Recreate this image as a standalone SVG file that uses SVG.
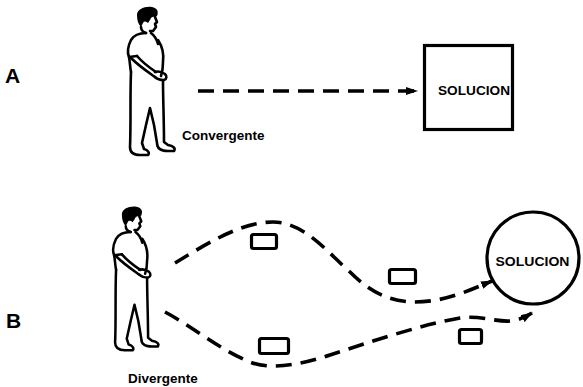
<svg xmlns="http://www.w3.org/2000/svg" width="583" height="387" viewBox="0 0 583 387">
  <style>
    .lbl { font-family: "Liberation Sans", Arial, sans-serif; font-weight: bold; fill: #000; }
    .ink { fill: none; stroke: #000; stroke-width: 2.6; stroke-linecap: round; stroke-linejoin: round; }
    .dash { fill: none; stroke: #000; stroke-width: 3.6; stroke-dasharray: 16 9; }
    .box { fill: #fff; stroke: #000; stroke-width: 3.2; }
    .card { fill: #fff; stroke: #000; stroke-width: 3.2; }
  </style>
  <defs>
    <marker id="head" viewBox="0 0 12 8" refX="11" refY="4" markerWidth="12" markerHeight="8" markerUnits="userSpaceOnUse" orient="auto">
      <path d="M0,0 L12,4 L0,8 Z" fill="#000"/>
    </marker>
    <!-- standing man, head bowed, hands clasped in front -->
    <g id="man">
      <path d="M137,15 C137,9 145,6 152,7 C157,8 159,11 157,16 L155,17 C153,16 151,17 150,20 L148,23 C146,21 144,21 143,23 L141,27 C138,24 137,20 137,15 Z" fill="#000"/>
      <path class="ink" d="M155,17 L157,22 L155,24 L156,27 L153,31 L150,31"/>
      <path class="ink" d="M141,27 C141,30 143,32 146,33"/>
      <path class="ink" d="M146,33 C139,33 134,35 131,40 C128,46 127,52 129,57 L137,56"/>
      <path class="ink" d="M129,57 C130,62 130,67 131,72"/>
      <path class="ink" d="M131,58 C139,66 148,72 155,77"/>
      <path class="ink" d="M137,56 C143,63 150,68 156,72"/>
      <path class="ink" d="M151,33 C155,36 157,40 158,44"/>
      <path class="ink" d="M158,40 C162,46 164,54 163,62 C163,68 162,73 161,76"/>
      <path class="ink" d="M155,72 C158,71 162,72 165,74 C167,76 167,79 164,80 C160,80 157,79 155,77"/>
      <path class="ink" d="M131,72 C130,95 131,125 130,147 C130,152 133,155 140,155 L148,155 C150,153 148,150 144,149 L142,143 L146,125 L150,108 L154,125 L157,143 C157,148 160,151 168,151 L174,151 C176,148 173,146 168,145 L164,142 C164,120 163,100 163,81"/>
    </g>
  </defs>

  <!-- row labels -->
  <text class="lbl" x="5" y="83" font-size="21">A</text>
  <text class="lbl" x="6" y="328" font-size="21">B</text>

  <!-- convergent thinker -->
  <g id="person-a">
    <use href="#man"/>
    <text class="lbl" x="182" y="140" font-size="13.5">Convergente</text>
  </g>

  <!-- divergent thinker -->
  <g id="person-b">
    <use href="#man" transform="translate(-11,200) scale(0.97)"/>
    <text class="lbl" x="128" y="383" font-size="13.5">Divergente</text>
  </g>

  <!-- single goal, boxed -->
  <g id="solution-a">
    <rect class="box" x="424.5" y="45.5" width="88" height="84"/>
    <text class="lbl" x="474" y="95" font-size="13" text-anchor="middle" textLength="72" lengthAdjust="spacingAndGlyphs">SOLUCION</text>
  </g>

  <!-- goal reached by many paths, circled -->
  <g id="solution-b">
    <circle class="box" cx="533" cy="258" r="46"/>
    <text class="lbl" x="532.5" y="266" font-size="13" text-anchor="middle" textLength="74" lengthAdjust="spacingAndGlyphs">SOLUCION</text>
  </g>

  <!-- intermediate ideas along the divergent paths -->
  <g id="ideas">
    <rect class="card" x="251.5" y="234.5" width="25" height="14" rx="2"/>
    <rect class="card" x="389.5" y="269.5" width="26" height="14" rx="2"/>
    <rect class="card" x="259.5" y="338.5" width="29" height="15" rx="2"/>
    <rect class="card" x="459.5" y="329.5" width="22" height="14" rx="2"/>
  </g>

  <g id="connectors">
    <path class="dash" d="M198,91 L417,91" stroke-dasharray="18 10" marker-end="url(#head)"/>
    <path class="dash" d="M175,263 C205,245 240,222 273,222 C305,222 330,255 350,272 C370,292 390,302 415,302 C445,302 470,290 492,281" marker-end="url(#head)"/>
    <path class="dash" d="M165,312 C190,325 220,350 250,362 C270,370 300,365 330,355 C370,342 420,325 460,318 C480,315 495,322 510,321 C520,320 527,316 532,313" marker-end="url(#head)"/>
  </g>
</svg>
